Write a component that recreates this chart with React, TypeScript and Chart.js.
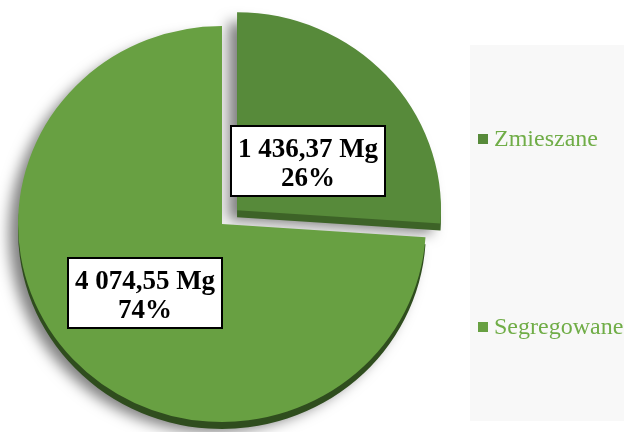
import React, { useEffect, useRef } from "react";
import { Chart, registerables } from "chart.js";

Chart.register(...registerables);

const categories = ["Zmieszane", "Segregowane"];
const values = [1436.37, 4074.55];
const unit = "Mg";
const sliceColors = ["#578a3a", "#68a042"];
const depthColors = ["#3d6327", "#2f4d1e"];
const sliceOffsets = [80, 0];

function formatPl(v: number): string {
  const [intPart, dec] = v.toFixed(2).split(".");
  const grouped = intPart.replace(/\B(?=(\d{3})+(?!\d))/g, " ");
  return grouped + "," + dec;
}

const DEPTH = 7;
const STRETCH_X = 1.03;

const depthPlugin = {
  id: "depth3d",
  beforeDatasetsDraw(chart: any) {
    const ctx = chart.ctx;
    const meta = chart.getDatasetMeta(0);
    const cx = (chart.chartArea.left + chart.chartArea.right) / 2;
    ctx.save();
    ctx.translate(cx, 0);
    ctx.scale(STRETCH_X, 1);
    ctx.translate(-cx, 0);
    meta.data.forEach((arc: any, i: number) => {
      const p = arc.getProps(["x", "y", "startAngle", "endAngle", "outerRadius"], true);
      const d = (arc.options.offset || 0) / 4;
      const h = (p.startAngle + p.endAngle) / 2;
      ctx.save();
      ctx.shadowColor = "rgba(0,0,0,0.5)";
      ctx.shadowBlur = 14;
      ctx.shadowOffsetX = -9;
      ctx.shadowOffsetY = 3;
      ctx.translate(Math.cos(h) * d, Math.sin(h) * d + DEPTH);
      ctx.beginPath();
      ctx.moveTo(p.x, p.y);
      ctx.arc(p.x, p.y, p.outerRadius, p.startAngle, p.endAngle);
      ctx.closePath();
      ctx.fillStyle = depthColors[i];
      ctx.fill();
      ctx.restore();
    });
  },
  afterDatasetsDraw(chart: any) {
    chart.ctx.restore();
  },
};

const labelFrac = [0.44, 0.52];
const labelAngleShift = [0.15, 0.02];

const labelPlugin = {
  id: "boxLabels",
  afterDatasetsDraw(chart: any) {
    const ctx = chart.ctx;
    const meta = chart.getDatasetMeta(0);
    const data = chart.data.datasets[0].data as number[];
    const total = data.reduce((a, b) => a + b, 0);
    meta.data.forEach((arc: any, i: number) => {
      const p = arc.getProps(["x", "y", "startAngle", "endAngle", "outerRadius"], true);
      const d = (arc.options.offset || 0) / 4;
      const h = (p.startAngle + p.endAngle) / 2;
      const cx0 = p.x + Math.cos(h) * d;
      const cy0 = p.y + Math.sin(h) * d;
      const a = h + labelAngleShift[i];
      const r = p.outerRadius * labelFrac[i];
      const cx = cx0 + Math.cos(a) * r;
      const cy = cy0 + Math.sin(a) * r;
      const line1 = formatPl(data[i]) + " " + unit;
      const line2 = Math.round((data[i] / total) * 100) + "%";
      ctx.save();
      ctx.font = 'bold 27px "Liberation Serif", "Times New Roman", serif';
      const w = Math.round(Math.max(ctx.measureText(line1).width, ctx.measureText(line2).width) + 16);
      const hgt = 72;
      const bx = Math.round(cx - w / 2);
      const by = Math.round(cy - hgt / 2);
      ctx.fillStyle = "#ffffff";
      ctx.fillRect(bx, by, w, hgt);
      ctx.lineWidth = 2;
      ctx.strokeStyle = "#000000";
      ctx.strokeRect(bx + 1, by + 1, w - 2, hgt - 2);
      ctx.fillStyle = "#000000";
      ctx.textAlign = "center";
      ctx.textBaseline = "alphabetic";
      ctx.fillText(line1, bx + w / 2, by + 32);
      ctx.fillText(line2, bx + w / 2, by + 61);
      ctx.restore();
    });
  },
};

const legendPlugin = {
  id: "sideLegend",
  beforeDraw(chart: any) {
    const ctx = chart.ctx;
    ctx.save();
    ctx.fillStyle = "#f8f8f8";
    ctx.fillRect(470, 45, 154, 376);
    ctx.restore();
  },
  afterDraw(chart: any) {
    const ctx = chart.ctx;
    const labels = chart.data.labels as string[];
    const colors = chart.data.datasets[0].backgroundColor as string[];
    const ys = [139, 327];
    ctx.save();
    ctx.font = '24px "Liberation Serif", "Times New Roman", serif';
    ctx.textBaseline = "middle";
    ctx.textAlign = "left";
    labels.forEach((lab, i) => {
      ctx.fillStyle = colors[i];
      ctx.fillRect(478, ys[i] - 5, 10, 10);
      ctx.fillStyle = "#70ad47";
      ctx.fillText(lab, 494, ys[i] + 1);
    });
    ctx.restore();
  },
};

export default function App() {
  const ref = useRef<HTMLCanvasElement | null>(null);
  useEffect(() => {
    document.body.style.margin = "0";
    const chart = new Chart(ref.current!, {
      type: "pie",
      data: {
        labels: categories,
        datasets: [
          {
            data: values,
            backgroundColor: sliceColors,
            borderWidth: 0,
            offset: sliceOffsets,
            hoverOffset: 0,
          },
        ],
      },
      options: {
        animation: false,
        responsive: false,
        radius: 198,
        layout: { padding: { left: 0, right: 180, top: 16, bottom: 0 } },
        plugins: {
          legend: { display: false },
          tooltip: { enabled: false },
        },
        events: [],
      } as any,
      plugins: [depthPlugin, labelPlugin, legendPlugin],
    });
    return () => chart.destroy();
  }, []);
  return (
    <div style={{ position: "fixed", left: 0, top: 0, width: 624, height: 432, background: "#fff" }}>
      <canvas ref={ref} width={624} height={432} style={{ display: "block" }} />
    </div>
  );
}
